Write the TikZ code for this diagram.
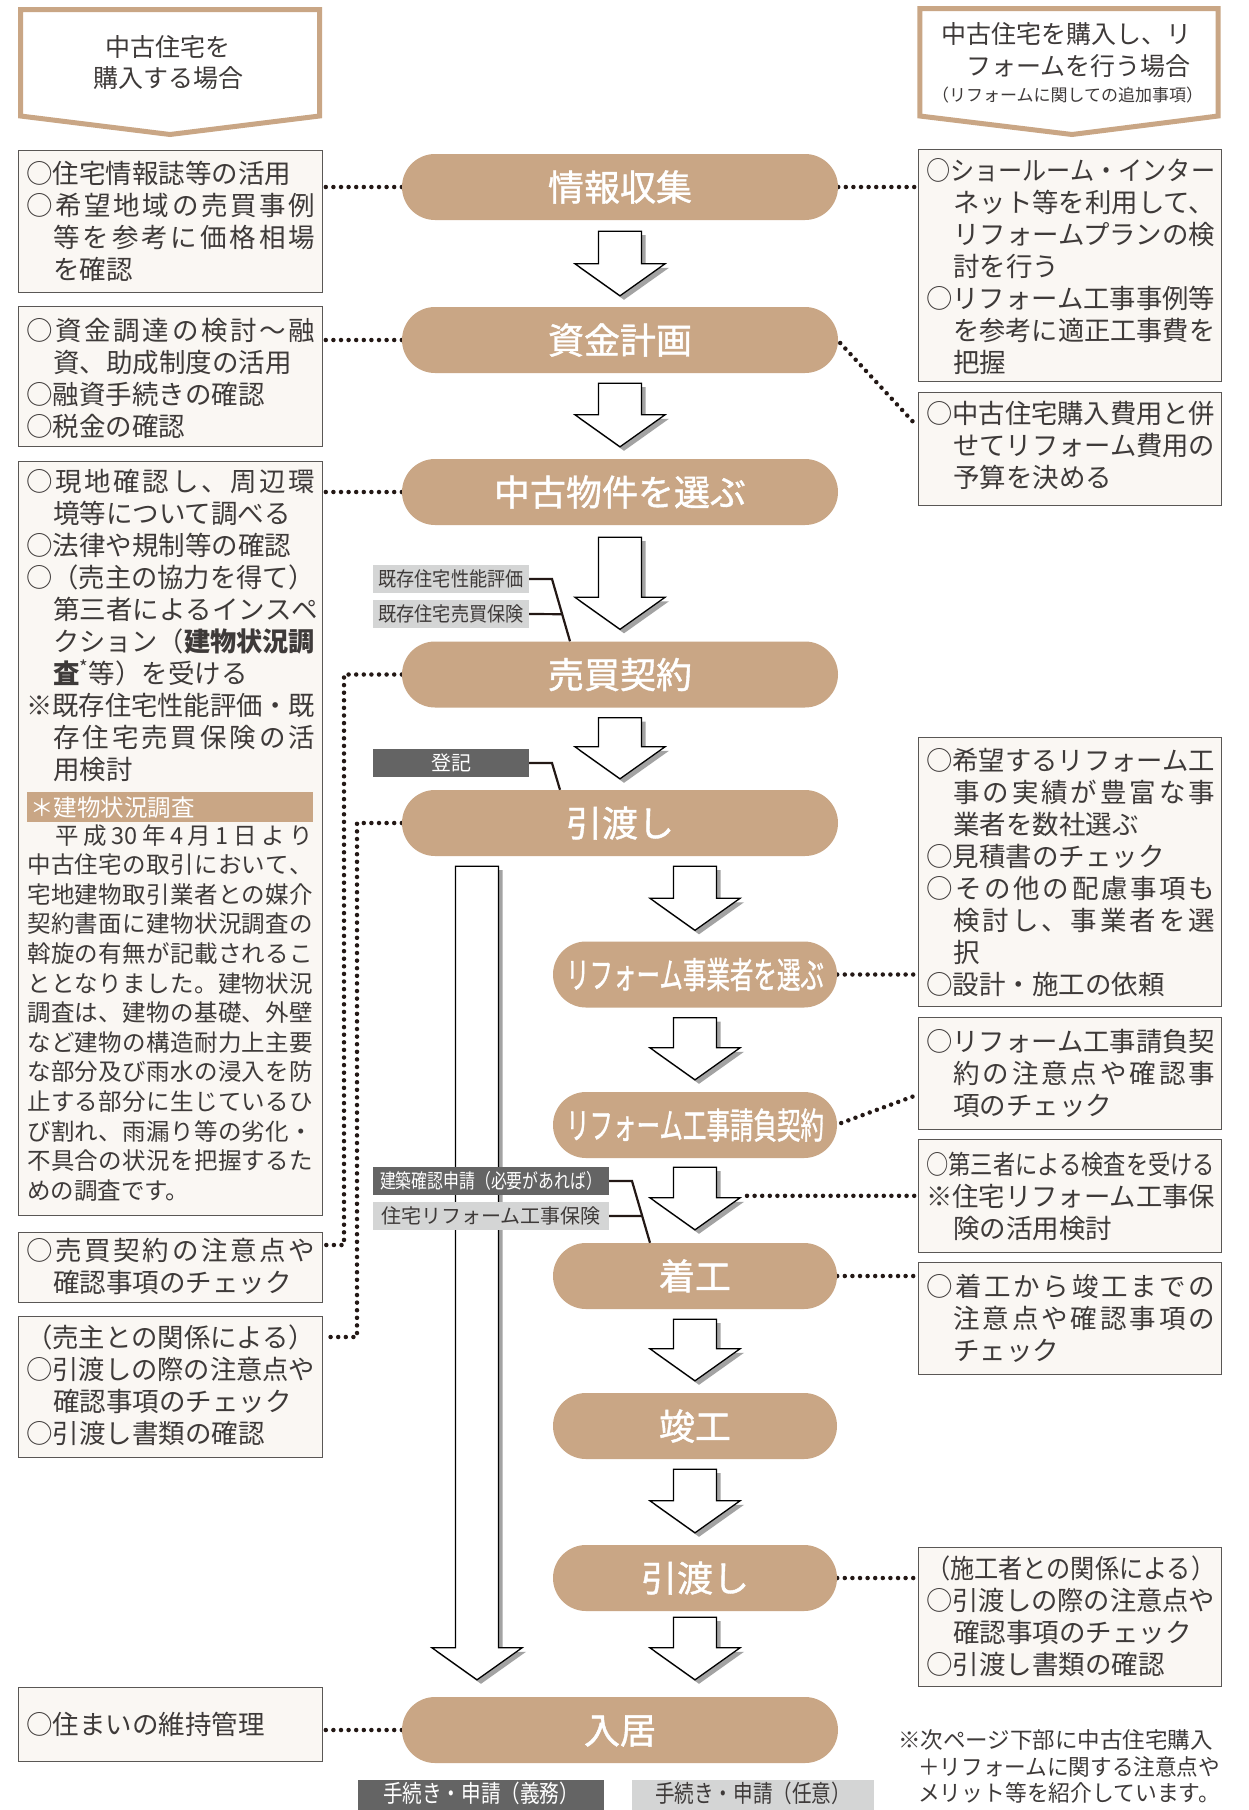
\documentclass[tikz,border=0pt]{standalone}
\usepackage{fontspec}
\usepackage{graphicx}
\setmainfont{Noto Sans CJK JP}
\newfontfamily\pillfont{Noto Sans CJK JP}[FakeBold=1.2]
\usetikzlibrary{calc,shadows}
\XeTeXuseglyphmetrics=1
\definecolor{pilltan}{RGB}{201,166,133}
\definecolor{boxfill}{RGB}{250,247,243}
\definecolor{boxline}{RGB}{90,87,85}
\definecolor{txtc}{RGB}{62,58,57}
\definecolor{dotc}{RGB}{35,24,21}
\definecolor{lgray}{RGB}{212,213,213}
\definecolor{dgray}{RGB}{100,100,100}
\pgfdeclarelayer{bg}\pgfdeclarelayer{conn}\pgfsetlayers{bg,conn,main}
\makeatletter
\newsavebox\jbox
\newlength\jw \setlength\jw{289pt}
\newlength\jwi \setlength\jwi{262pt}
\newlength\jind \setlength\jind{27pt}
\newcommand\strutJ{\rule{0pt}{0.9em}}
\newcommand\jfit[2]{\sbox\jbox{#2}%
  \ifdim\wd\jbox>#1\relax\resizebox{#1}{\height}{#2}%
  \else\hbox to #1{\@tfor\jch:=#2\do{\jch\hfil}\unskip}\fi\strutJ}
\newcommand\fitw[2]{\sbox\jbox{#2}%
  \ifdim\wd\jbox>#1\relax\resizebox{#1}{\height}{#2}%
  \else\usebox\jbox\fi\strutJ}
\makeatother
\newcommand\JL[1]{\jfit{\jw}{#1}}
\newcommand\JLI[1]{\hspace*{\jind}\jfit{\jwi}{#1}}
\newcommand\NL[1]{\fitw{\jw}{#1}}
\newcommand\NLI[1]{\hspace*{\jind}\fitw{\jwi}{#1}}
\newcommand\PJ[1]{\jfit{286pt}{#1}}
\newcommand\ibox[5]{\node[ibox, anchor=north west, minimum width=#4-#2, minimum height=#5-#3] (#1) at (#2,#3) {};}
\newcommand\barrow[2]{\path[barrowst] let \p1=(#1), \p2=(#2) in
  (\x2-21.5pt,\y1) -- (\x2+21.5pt,\y1) -- (\x2+21.5pt,\y2+32pt) -- (\x2+45pt,\y2+32pt)
  -- (\x2,\y2) -- (\x2-45pt,\y2+32pt) -- (\x2-21.5pt,\y2+32pt) -- cycle;}
\begin{document}
\begin{tikzpicture}[x=1pt,y=-1pt,
  ibox/.style={draw=boxline, fill=boxfill, line width=1.2pt, inner sep=0pt},
  tx/.style={anchor=north west, inner sep=0pt, align=left, text=txtc, font=\fontsize{26.5}{32}\selectfont},
  ptx/.style={anchor=north west, inner sep=0pt, align=left, text=txtc, font=\fontsize{23.5}{29.6}\selectfont},
  pill/.style={fill=pilltan, rounded corners=33pt, minimum height=66pt, inner sep=0pt, text=white,
    font=\pillfont\fontsize{36}{40}\selectfont, text height=31.7pt, text depth=4.3pt},
  lab/.style={minimum height=28pt, inner sep=0pt, font=\fontsize{20}{22}\selectfont, text height=17.6pt, text depth=2.4pt},
  labl/.style={lab, fill=lgray, text=txtc},
  labd/.style={lab, fill=dgray, text=white},
  labline/.style={draw=dotc, line width=2.2pt},
  dotl/.style={draw=dotc, line width=4.5pt, line cap=round, dash pattern=on 0pt off 7.6pt},
  barrowst/.style={draw=black, line width=1.3pt, fill=white, line join=miter,
    drop shadow={shadow xshift=4pt, shadow yshift=-4pt, fill=black!60, opacity=0.6}},
  htx/.style={inner sep=0pt, text=txtc, font=\fontsize{25}{30}\selectfont}
]
\begin{pgfonlayer}{bg}\fill[white] (0,0) rectangle (1248,1810);\end{pgfonlayer}
\useasboundingbox (0,0) rectangle (1248,1810);

% headers
\draw[pilltan, line width=5pt, fill=white, line join=miter] (20.5,9.5) -- (319.5,9.5) -- (319.5,116) -- (170,134.5) -- (20.5,116) -- cycle;
\draw[pilltan, line width=5pt, fill=white, line join=miter] (919.8,8.5) -- (1218.2,8.5) -- (1218.2,116) -- (1072,134.5) -- (919.8,116) -- cycle;
\node[htx, anchor=base] (h1a) at (168,56) {中古住宅を};
\node[htx, anchor=base] (h1b) at (168,87) {購入する場合};
\node[htx, anchor=base west] (h2a) at (941,43) {\fitw{253pt}{中古住宅を購入し、リ}};
\node[htx, anchor=base west] (h2b) at (966,75.5) {フォームを行う場合};
\node[htx, anchor=base west, font=\fontsize{17}{20}\selectfont] (h2c) at (932,101.5) {\fitw{272pt}{（リフォームに関しての追加事項）}};

% info boxes
\ibox{L1}{18}{150}{322}{292}
\ibox{L2}{18}{306}{322}{446}
\ibox{L3}{18}{461}{322}{1215}
\ibox{L4}{18}{1232}{322}{1302}
\ibox{L5}{18}{1316}{322}{1457}
\ibox{L6}{18}{1687}{322}{1761}
\ibox{R1}{918}{149}{1221}{381}
\ibox{R2}{918}{392}{1221}{505}
\ibox{R3}{918}{737}{1221}{1006}
\ibox{R4}{918}{1017}{1221}{1129}
\ibox{R5}{918}{1139}{1221}{1252}
\ibox{R6}{918}{1262}{1221}{1374}
\ibox{R7}{918}{1547}{1221}{1686}

\node[tx] (L1t) at (26,159.2) {\NL{○住宅情報誌等の活用}\\ \JL{○希望地域の売買事例}\\ \JLI{等を参考に価格相場}\\ \NLI{を確認}};
\node[tx] (L2t) at (26,316.2) {\JL{○資金調達の検討〜融}\\ \NLI{資、助成制度の活用}\\ \NL{○融資手続きの確認}\\ \NL{○税金の確認}};
\node[tx] (L3t) at (26,467.2) {\JL{○現地確認し、周辺環}\\
 \NLI{境等について調べる}\\
 \NL{○法律や規制等の確認}\\
 \JL{○（売主の協力を得て）}\\
 \JLI{第三者によるインスペ}\\
 \JLI{クション（{{\bfseries 建物状況調}}}\\
 \NLI{{\bfseries 査}\textsuperscript{*}等）を受ける}\\
 \JL{※既存住宅性能評価・既}\\
 \JLI{存住宅売買保険の活}\\
 \NLI{用検討}};
\node[fill=pilltan, minimum width=286, minimum height=30, inner sep=0pt, anchor=north west] (bar) at (27,792) {};
\node[anchor=base west, inner sep=0pt, text=white, font=\fontsize{23.5}{28}\selectfont] (bart) at (30,816) {＊建物状況調査};
\node[ptx] (L3p) at (27,822.8) {\PJ{　平成{30}年4月1日より}\\
 \PJ{中古住宅の取引において、}\\
 \PJ{宅地建物取引業者との媒介}\\
 \PJ{契約書面に建物状況調査の}\\
 \PJ{斡旋の有無が記載されるこ}\\
 \PJ{ととなりました。建物状況}\\
 \PJ{調査は、建物の基礎、外壁}\\
 \PJ{など建物の構造耐力上主要}\\
 \PJ{な部分及び雨水の浸入を防}\\
 \PJ{止する部分に生じているひ}\\
 \PJ{び割れ、雨漏り等の劣化・}\\
 \PJ{不具合の状況を把握するた}\\
 \fitw{286pt}{めの調査です。}};
\node[tx] (L4t) at (26,1236.2) {\JL{○売買契約の注意点や}\\ \NLI{確認事項のチェック}};
\node[tx] (L5t) at (26,1323.2) {\NL{（売主との関係による）}\\ \NL{○引渡しの際の注意点や}\\ \NLI{確認事項のチェック}\\ \NL{○引渡し書類の確認}};
\node[tx] (L6t) at (26,1710.2) {\NL{○住まいの維持管理}};

\node[tx] (R1t) at (926,156.2) {\JL{○ショールーム・インター}\\ \JLI{ネット等を利用して、}\\ \JLI{リフォームプランの検}\\ \NLI{討を行う}\\ \JL{○リフォーム工事事例等}\\ \JLI{を参考に適正工事費を}\\ \NLI{把握}};
\node[tx] (R2t) at (926,399.2) {\JL{○中古住宅購入費用と併}\\ \JLI{せてリフォーム費用の}\\ \NLI{予算を決める}};
\node[tx] (R3t) at (926,746.2) {\JL{○希望するリフォーム工}\\ \JLI{事の実績が豊富な事}\\ \NLI{業者を数社選ぶ}\\ \NL{○見積書のチェック}\\ \JL{○その他の配慮事項も}\\ \JLI{検討し、事業者を選}\\ \NLI{択}\\ \NL{○設計・施工の依頼}};
\node[tx] (R4t) at (926,1027.2) {\JL{○リフォーム工事請負契}\\ \JLI{約の注意点や確認事}\\ \NLI{項のチェック}};
\node[tx] (R5t) at (926,1150.2) {\JL{○第三者による検査を受ける}\\ \JL{※住宅リフォーム工事保}\\ \NLI{険の活用検討}};
\node[tx] (R6t) at (926,1272.2) {\JL{○着工から竣工までの}\\ \JLI{注意点や確認事項の}\\ \NLI{チェック}};
\node[tx] (R7t) at (926,1554.2) {\NL{（施工者との関係による）}\\ \NL{○引渡しの際の注意点や}\\ \NLI{確認事項のチェック}\\ \NL{○引渡し書類の確認}};

% pills
\node[pill, minimum width=436] (p1) at (620,187) {情報収集};
\node[pill, minimum width=436] (p2) at (620,340) {資金計画};
\node[pill, minimum width=436] (p3) at (620,492) {中古物件を選ぶ};
\node[pill, minimum width=436] (p4) at (620,674.5) {売買契約};
\node[pill, minimum width=436] (p5) at (620,823) {引渡し};
\node[pill, minimum width=284] (s1) at (695,974.5) {\resizebox{258pt}{\height}{リフォーム事業者を選ぶ}};
\node[pill, minimum width=284] (s2) at (695,1125) {\resizebox{258pt}{\height}{リフォーム工事請負契約}};
\node[pill, minimum width=284] (s3) at (695,1276) {着工};
\node[pill, minimum width=284] (s4) at (695,1426) {竣工};
\node[pill, minimum width=284] (s5) at (695,1578) {引渡し};
\node[pill, minimum width=436] (en) at (620,1730) {入居};

% block arrows
\barrow{$(p1.south)+(0,11)$}{$(p2.north)+(0,-11)$}
\barrow{$(p2.south)+(0,10)$}{$(p3.north)+(0,-12)$}
\barrow{$(p3.south)+(0,12)$}{$(p4.north)+(0,-12)$}
\barrow{$(p4.south)+(0,10)$}{$(p5.north)+(0,-11)$}
\barrow{$(p5.south)+(0,10)$}{$(s1.north)+(0,-11)$}
\barrow{$(s1.south)+(0,10)$}{$(s2.north)+(0,-12)$}
\barrow{$(s2.south)+(0,9)$}{$(s3.north)+(0,-13)$}
\barrow{$(s3.south)+(0,10)$}{$(s4.north)+(0,-12)$}
\barrow{$(s4.south)+(0,10)$}{$(s5.north)+(0,-12)$}
\barrow{$(s5.south)+(0,6)$}{$(s5.south |- en.north)+(0,-17)$}
\barrow{$(p5.south)+(-143,10)$}{$(en.north)+(-143,-17)$}

% dotted connectors
\coordinate (k4) at (344,1245);
\coordinate (k5) at (357,1337);
\coordinate (a7r) at ($(s3.north)+(52,-47)$);
\begin{pgfonlayer}{conn}
\draw[dotl] (p1.west) -- (p1.west -| L1.east);
\draw[dotl] (p1.east) -- (p1.east -| R1.west);
\draw[dotl] (p2.west) -- (p2.west -| L2.east);
\draw[dotl] ($(p2.east)+(2,3)$) -- ($(R2.north west)+(-2,33)$);
\draw[dotl] (p3.west) -- (p3.west -| L3.east);
\draw[dotl] (p4.west) -| (k4) -- (k4 -| L4.east);
\draw[dotl] (p5.west) -| (k5) -- (k5 -| L5.east);
\draw[dotl] (s1.east) -- (s1.east -| R3.west);
\draw[dotl] ($(s2.east)+(4,-2)$) -- ($(R4.west)+(0,21)$);
\draw[dotl] (a7r) -- (a7r -| R5.west);
\draw[dotl] (s3.east) -- (s3.east -| R6.west);
\draw[dotl] (s5.east) -- (s5.east -| R7.west);
\draw[dotl] (en.west) -- (en.west -| L6.east);
\end{pgfonlayer}

% procedure labels
\node[labl, minimum width=156] (g1) at (451,579) {\fitw{145pt}{既存住宅性能評価}};
\node[labl, minimum width=156] (g2) at (451,614) {\fitw{145pt}{既存住宅売買保険}};
\node[labd, minimum width=156] (g3) at (451,763) {登記};
\node[labd, minimum width=236] (g4) at (491,1181) {\fitw{222pt}{建築確認申請（必要があれば）}};
\node[labl, minimum width=236] (g5) at (491,1216) {\fitw{222pt}{住宅リフォーム工事保険}};
\coordinate (j1) at (552,579);
\coordinate (j1e) at ($(p4.north)+(-50,0)$);
\coordinate (j3) at (552,763);
\coordinate (j3e) at ($(p5.north)+(-60,0)$);
\coordinate (j4) at (632,1181);
\coordinate (j4e) at ($(s3.north)+(-45,0)$);
\draw[labline] (g1.east) -- (j1) -- (j1e);
\draw[labline] (g2.east) -- ($(j1)!0.565!(j1e)$);
\draw[labline] (g3.east) -- (j3) -- (j3e);
\draw[labline] (g4.east) -- (j4) -- (j4e);
\draw[labline] (g5.east) -- ($(j4)!0.565!(j4e)$);

% legend
\node[labd, minimum width=246, minimum height=30, font=\fontsize{24}{27}\selectfont] (lg1) at (481,1795) {\fitw{196pt}{手続き・申請（義務）}};
\node[labl, minimum width=242, minimum height=30, font=\fontsize{24}{27}\selectfont] (lg2) at (753,1795) {\fitw{196pt}{手続き・申請（任意）}};

% note
\node[anchor=base west, inner sep=0pt, text=txtc, font=\fontsize{22.5}{26}\selectfont] (n1) at (898,1748.4) {\fitw{322pt}{※次ページ下部に中古住宅購入}};
\node[anchor=base west, inner sep=0pt, text=txtc, font=\fontsize{22.5}{26}\selectfont] (n2) at (918,1775.4) {\fitw{302pt}{＋リフォームに関する注意点や}};
\node[anchor=base west, inner sep=0pt, text=txtc, font=\fontsize{22.5}{26}\selectfont] (n3) at (918,1801.4) {\fitw{302pt}{メリット等を紹介しています。}};
\end{tikzpicture}
\end{document}
